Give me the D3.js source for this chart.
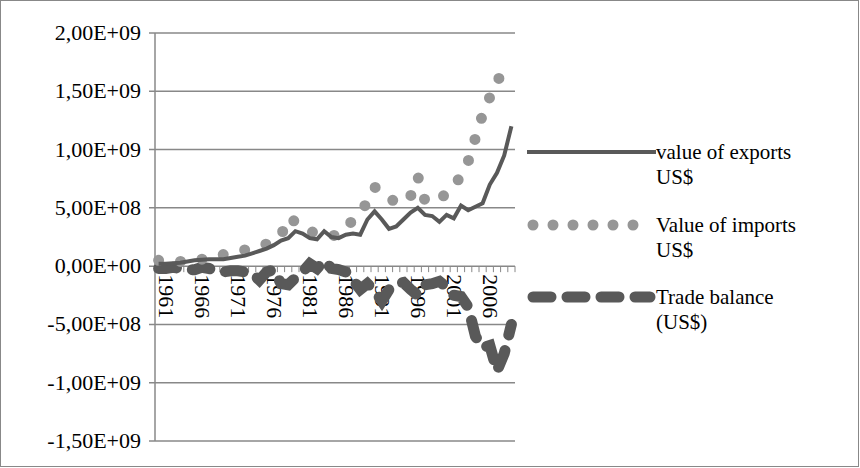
<!DOCTYPE html>
<html><head><meta charset="utf-8">
<script src="https://cdn.jsdelivr.net/npm/d3@7"></script>
<style>body{margin:0;background:#fff} svg text{font-family:"Liberation Serif","Times New Roman","DejaVu Serif",serif !important}</style>
</head><body><svg id="c" width="860" height="468"></svg>
<script>
var years = d3.range(1961, 2011)
var yTicks = [2e9, 1.5e9, 1e9, 5e8, 0, -5e8, -1e9, -1.5e9]
var yLabels = ['2,00E+09','1,50E+09','1,00E+09','5,00E+08','0,00E+00','-5,00E+08','-1,00E+09','-1,50E+09']
// values in units of 1E8 US$
var exportsV = [0.2,0.2,0.25,0.3,0.4,0.5,0.55,0.6,0.6,0.6,0.7,0.8,0.9,1.1,1.3,1.5,1.8,2.2,2.4,3.0,2.8,2.4,2.3,3.0,2.5,2.4,2.7,2.8,2.7,4.0,4.7,4.0,3.2,3.4,4.0,4.6,5.0,4.4,4.3,3.8,4.4,4.1,5.2,4.8,5.1,5.4,7.0,8.0,9.5,12.0]
var importsV = [0.5,0.5,0.4,0.4,0.6,0.7,0.6,0.6,0.8,1.0,1.1,1.2,1.4,1.6,1.7,1.9,2.2,2.6,4.2,3.8,3.3,3.0,2.8,2.7,2.6,2.7,3.2,4.0,4.6,5.5,6.8,6.2,5.8,5.5,5.4,6.0,7.7,5.6,5.5,5.8,6.2,6.8,7.8,9.0,11.0,13.0,14.5,16.0,16.4,16.3]
var balanceV = [-0.2,-0.2,-0.1,-0.2,-0.3,-0.3,-0.1,-0.2,-0.4,-0.5,-0.4,-0.4,-0.5,-0.6,-1.2,-0.5,-0.3,-1.5,-1.6,-1.0,-0.5,0.2,-0.2,0.5,-0.2,-0.3,-0.5,-1.2,-2.0,-1.5,-2.1,-3.0,-2.0,-1.5,-1.4,-2.0,-2.5,-1.6,-1.5,-1.3,-1.8,-2.5,-2.6,-3.5,-6.0,-7.0,-6.8,-9.0,-7.5,-5.0]

var svg = d3.select('#c')
svg.append('rect').attr('x',0.5).attr('y',0.5).attr('width',858).attr('height',466).attr('fill','#fff').attr('stroke','#888')
var x0 = 155, x1 = 515
var x = d3.scaleBand().domain(years).range([x0, x1])
var y = d3.scaleLinear().domain([-1.5e9, 2e9]).range([441, 33])
var cx = function (i) { return x(years[i]) + x.bandwidth() / 2 }

svg.append('g').selectAll('line').data(yTicks).enter().append('line')
  .attr('x1', x0 - 6).attr('x2', x1).attr('y1', d => y(d)).attr('y2', d => y(d))
  .attr('stroke', '#888').attr('stroke-width', 1.5)
svg.append('line').attr('x1', x0).attr('x2', x0).attr('y1', 33).attr('y2', 441).attr('stroke', '#888').attr('stroke-width', 1.5)
svg.append('g').selectAll('text').data(yTicks).enter().append('text')
  .attr('x', x0 - 14).attr('y', d => y(d) + 7).attr('text-anchor', 'end')
  .attr('font-size', 22).text((d, i) => yLabels[i])
// category ticks on zero line
svg.append('g').selectAll('line').data(years.concat([2011])).enter().append('line')
  .attr('x1', d => d === 2011 ? x1 : x(d)).attr('x2', d => d === 2011 ? x1 : x(d))
  .attr('y1', y(0)).attr('y2', y(0) + 6).attr('stroke', '#888')
svg.append('g').selectAll('text').data(years.filter((d, i) => i % 5 === 0)).enter().append('text')
  .attr('transform', d => 'translate(' + (x(d) + x.bandwidth() / 2) + ',' + (y(0) + 8) + ') rotate(90)')
  .attr('font-size', 22).text(d => d)

var line = d3.line().x((d, i) => cx(i)).y(d => y(d * 1e8))
svg.append('path').datum(balanceV).attr('d', line).attr('fill', 'none')
  .attr('stroke', '#595959').attr('stroke-width', 11).attr('stroke-dasharray', '18,16').attr('stroke-linecap', 'round')
svg.append('path').datum(importsV).attr('d', line).attr('fill', 'none')
  .attr('stroke', '#969696').attr('stroke-width', 11).attr('stroke-dasharray', '0,22').attr('stroke-linecap', 'round')
svg.append('path').datum(exportsV).attr('d', line).attr('fill', 'none')
  .attr('stroke', '#595959').attr('stroke-width', 4)

var leg = [
  { t: ['value of exports', 'US$'], y: 152, dash: null, c: '#595959', w: 4 },
  { t: ['Value of imports', 'US$'], y: 225, dash: '0,20', c: '#969696', w: 11 },
  { t: ['Trade balance', '(US$)'], y: 297, dash: '18,16', c: '#595959', w: 11 }
]
leg.forEach(function (l) {
  svg.append('line').attr('x1', l.dash ? 533 : 527).attr('x2', l.dash ? 650 : 656).attr('y1', l.y).attr('y2', l.y)
    .attr('stroke', l.c).attr('stroke-width', l.w).attr('stroke-linecap', l.dash ? 'round' : 'butt')
    .attr('stroke-dasharray', l.dash)
  l.t.forEach(function (s, k) {
    svg.append('text').attr('x', 656).attr('y', l.y + 7 + k * 25).attr('font-size', 21).text(s)
  })
})
</script></body></html>
